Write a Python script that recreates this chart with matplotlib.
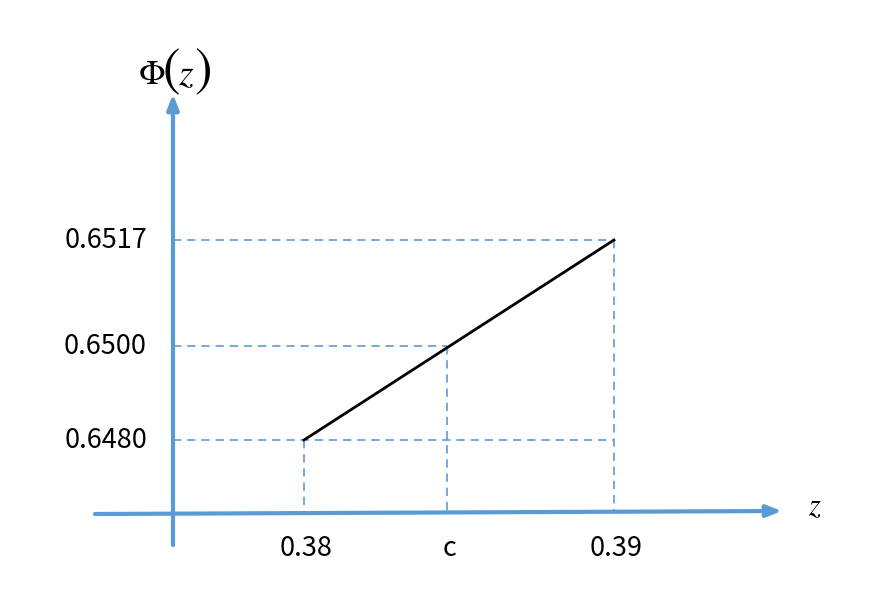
import matplotlib
matplotlib.use('Agg')
import matplotlib.pyplot as plt

plt.rcParams['font.family'] = ['Noto Sans CJK JP', 'DejaVu Sans']
plt.rcParams['mathtext.fontset'] = 'stix'

# schematic (not to scale) positions of the interpolation points
z_labels = ['0.38', 'c', '0.39']
phi_labels = ['0.6480', '0.6500', '0.6517']
x_pts = [304, 447, 614]
y_pts = [440, 346, 240]

blue = '#5B9BD5'

fig = plt.figure(figsize=(8.76, 5.94), dpi=100)
ax = fig.add_axes([0, 0, 1, 1])
ax.set_xlim(0, 876)
ax.set_ylim(594, 0)
ax.axis('off')

y_axis_x = 173
x_axis_y = 514

# axes with arrows
ax.annotate('', xy=(y_axis_x, 94), xytext=(y_axis_x, 545),
            arrowprops=dict(arrowstyle='-|>,head_length=0.9,head_width=0.35',
                            color=blue, lw=3, shrinkA=0, shrinkB=0))
ax.annotate('', xy=(782, 511), xytext=(95, x_axis_y),
            arrowprops=dict(arrowstyle='-|>,head_length=0.9,head_width=0.35',
                            color=blue, lw=3, shrinkA=0, shrinkB=0))

# dashed guide lines
dash = dict(color=blue, lw=1.2, ls=(0, (5, 3.5)))
ax.plot([y_axis_x, x_pts[2]], [y_pts[2], y_pts[2]], **dash)
ax.plot([y_axis_x, x_pts[1]], [y_pts[1], y_pts[1]], **dash)
ax.plot([y_axis_x, x_pts[2]], [y_pts[0], y_pts[0]], **dash)
for xp, yp in zip(x_pts, y_pts):
    ax.plot([xp, xp], [yp, x_axis_y - 2], **dash)

# interpolation line
ax.plot([x_pts[0], x_pts[2]], [y_pts[0], y_pts[2]], color='black', lw=2)

# tick labels
for lab, yp in zip(phi_labels, y_pts):
    ax.text(147, yp, lab, ha='right', va='center', fontsize=19.5)
for lab, xp in zip(z_labels, x_pts):
    ax.text(xp + 2, 548, lab, ha='center', va='center', fontsize=19.5)

# axis titles: Phi with tall parentheses
ax.text(152, 74, r'$\Phi$', ha='center', va='center', fontsize=25)
ax.text(171, 70, r'$($', ha='center', va='center', fontsize=38)
ax.text(186, 75, r'$z$', ha='center', va='center', fontsize=27)
ax.text(203, 70, r'$)$', ha='center', va='center', fontsize=38)
ax.text(815, 507, r'$z$', ha='center', va='center', fontsize=22)

fig.savefig('out.png', dpi=100)
